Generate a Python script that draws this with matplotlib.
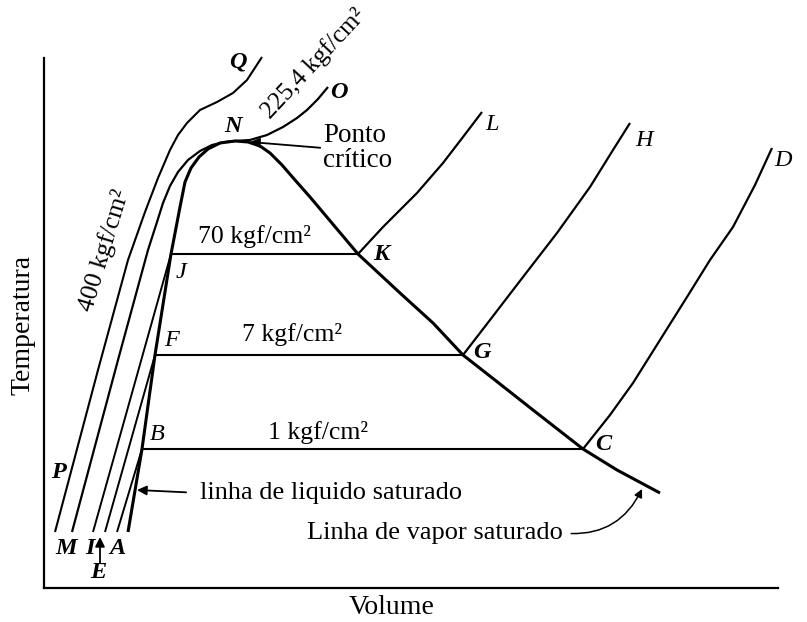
import matplotlib
matplotlib.use("Agg")
import matplotlib.pyplot as plt

plt.rcParams['font.family'] = ['Liberation Serif', 'DejaVu Serif']

# volume / temperature (arbitrary units)
pq_v = [11, 54, 84, 101, 114, 126, 134, 143, 156, 173, 189, 203, 218]
pq_t = [56, 218, 328, 376, 410, 438, 453, 465, 478, 486, 495, 508, 531]

mno_v = [28, 74, 104, 113, 119, 126, 134, 144, 156, 168, 181, 191, 206, 223, 239, 253, 263, 274, 284]
mno_t = [56, 228, 338, 366, 385, 402, 416, 428, 437, 443, 446, 447, 448, 453, 461, 470, 478, 489, 501]

dome_v = [84, 98, 111, 127, 132, 136, 141, 147, 155, 164, 176, 191, 204, 216, 226,
          238, 251, 266, 314, 356, 389, 419, 456, 489, 539, 573, 616]
dome_t = [56, 139, 233, 334, 360, 381, 406, 420, 431, 439, 445, 447, 446, 442, 435,
          423, 408, 391, 334, 295, 265, 233, 204, 178, 139, 118, 95]

# compressed liquid lines (bottom -> saturation point)
ij_v, ij_t = [49, 127], [56, 334]
ef_v, ef_t = [61, 111], [56, 233]
ab_v, ab_t = [73, 98], [56, 139]

# saturation pressures: T and the liquid / vapour volumes
sat_t = [334, 233, 139]
sat_vl = [127, 111, 98]
sat_vv = [314, 419, 539]
sat_txt = ['70 kgf/cm²', '7 kgf/cm²', '1 kgf/cm²']

# superheated parts
kl_v = [314, 339, 373, 399, 419, 438]
kl_t = [334, 361, 395, 425, 451, 476]
gh_v = [419, 446, 479, 513, 546, 569, 586]
gh_t = [233, 268, 311, 355, 401, 438, 465]
cd_v = [539, 566, 589, 616, 643, 666, 689, 711, 728]
cd_t = [139, 173, 205, 248, 291, 328, 361, 403, 440]

fig = plt.figure(figsize=(8.07, 6.22), dpi=100, facecolor='white')
ax = fig.add_axes([0, 0, 1, 1])
ax.set_xlim(-44, 763)
ax.set_ylim(-34, 588)
for s in ['top', 'right']:
    ax.spines[s].set_visible(False)
ax.spines['left'].set_position(('data', 0))
ax.spines['bottom'].set_position(('data', 0))
ax.spines['left'].set_bounds(0, 530)
ax.spines['bottom'].set_bounds(0, 734)
ax.spines['left'].set_linewidth(1.6)
ax.spines['bottom'].set_linewidth(1.6)
ax.set_xticks([])
ax.set_yticks([])

k = dict(color='black', solid_capstyle='butt', solid_joinstyle='round', clip_on=False)
ax.plot(pq_v, pq_t, lw=1.5, **k)
ax.plot(mno_v, mno_t, lw=1.6, **k)
ax.plot(dome_v, dome_t, lw=2.2, **k)
for vv, tt in [(ij_v, ij_t), (ef_v, ef_t), (ab_v, ab_t)]:
    ax.plot(vv, tt, lw=1.4, **k)
for vv, tt in [(kl_v, kl_t), (gh_v, gh_t), (cd_v, cd_t)]:
    ax.plot(vv, tt, lw=1.6, **k)
ax.hlines(sat_t, sat_vl, sat_vv, color='black', lw=1.5)

# pressure labels
txt = dict(fontsize=18.5, ha='center', va='center')
for (x, y), s in zip([(211, 352), (248, 254), (274, 156)], sat_txt):
    ax.text(x, y, s, **txt)
ax.text(60, 338, '400 kgf/cm²', rotation=73, **txt)
ax.text(270, 524, '225,4 kgf/cm²', rotation=47, fontsize=18, ha='center', va='center')

# point letters
lt = dict(fontsize=17.5, style='italic', ha='center', va='center')
bold_pts = {'Q': (194, 526), 'N': (189, 461), 'O': (295, 496), 'K': (337, 334),
            'G': (438, 236), 'C': (559, 143), 'P': (14, 116), 'M': (22, 40),
            'I': (46, 40), 'E': (54, 15), 'A': (73, 40)}
thin_pts = {'L': (448, 463), 'H': (600, 448), 'D': (739, 427),
            'J': (137, 316), 'F': (128, 247), 'B': (113, 154)}
for s, (x, y) in bold_pts.items():
    ax.text(x, y, s, weight='bold', **lt)
for s, (x, y) in thin_pts.items():
    ax.text(x, y, s, **lt)

arr = dict(arrowstyle='-|>', color='black', lw=1.3, mutation_scale=14, shrinkA=0, shrinkB=0)
ax.annotate('', xy=(56, 51), xytext=(56, 25), arrowprops=arr)

ax.annotate('Ponto\ncrítico', xy=(206, 446), xytext=(279, 440), fontsize=19.5,
            ha='left', va='center', linespacing=1.0,
            arrowprops=dict(arrowstyle='-|>', color='black', lw=1.3, mutation_scale=14,
                            shrinkA=0, shrinkB=0, relpos=(0, 0.5)))
ax.annotate('linha de liquido saturado', xy=(93, 98), xytext=(156, 95), fontsize=19,
            ha='left', va='center',
            arrowprops=dict(arrowstyle='-|>', color='black', lw=1.3, mutation_scale=14,
                            shrinkA=8, shrinkB=0, relpos=(0, 0.5)))
ax.annotate('Linha de vapor saturado', xy=(598, 99), xytext=(263, 55), fontsize=19,
            ha='left', va='center',
            arrowprops=dict(arrowstyle='-|>', color='black', lw=1.1, mutation_scale=12,
                            shrinkA=4, shrinkB=0, relpos=(1, 0.5),
                            connectionstyle='arc3,rad=0.35'))

ax.text(-21, 263, 'Temperatura', rotation=90, fontsize=20, ha='center', va='center')
ax.text(348, -19, 'Volume', fontsize=20, ha='center', va='center')

fig.savefig('out.png', dpi=100, facecolor='white')
